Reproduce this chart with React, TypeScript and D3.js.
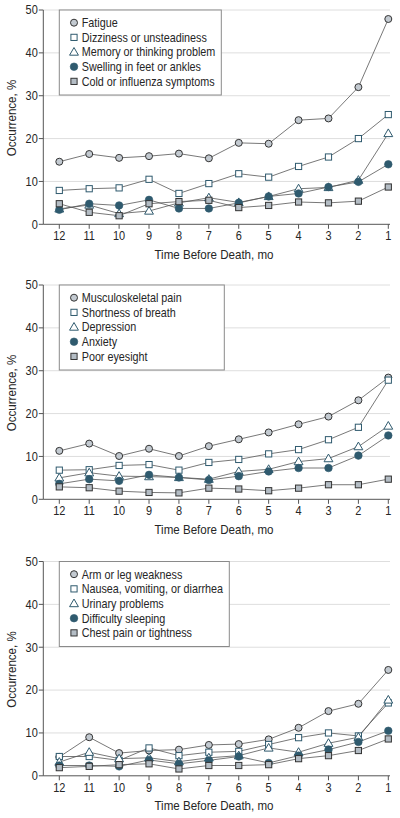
import React from "react";
import * as d3 from "d3";

const months = [12, 11, 10, 9, 8, 7, 6, 5, 4, 3, 2, 1];
const yTicks = [0, 10, 20, 30, 40, 50];
const xTitle = "Time Before Death, mo";
const yTitle = "Occurrence, %";

// Panel 1
const panel1Names = [
  "Fatigue",
  "Dizziness or unsteadiness",
  "Memory or thinking problem",
  "Swelling in feet or ankles",
  "Cold or influenza symptoms",
];
const fatigue = [14.6, 16.4, 15.5, 15.9, 16.5, 15.4, 19.0, 18.8, 24.3, 24.7, 32.0, 47.9];
const dizziness = [7.9, 8.3, 8.5, 10.5, 7.2, 9.5, 11.8, 11.0, 13.5, 15.7, 20.0, 25.6];
const memory = [3.6, 4.5, 2.5, 3.1, 5.0, 6.2, 5.1, 6.5, 8.3, 8.6, 10.3, 21.2];
const swelling = [3.4, 4.8, 4.4, 5.7, 3.7, 3.7, 5.0, 6.5, 7.2, 8.7, 9.9, 14.0];
const coldFlu = [4.8, 2.8, 2.0, 4.8, 5.3, 5.6, 3.9, 4.4, 5.2, 5.0, 5.4, 8.7];

// Panel 2
const panel2Names = [
  "Musculoskeletal pain",
  "Shortness of breath",
  "Depression",
  "Anxiety",
  "Poor eyesight",
];
const mskPain = [11.3, 13.0, 10.1, 11.8, 10.1, 12.4, 14.0, 15.6, 17.5, 19.3, 23.1, 28.4];
const breath = [6.8, 6.9, 7.9, 8.1, 6.8, 8.6, 9.3, 10.6, 11.6, 13.9, 16.8, 27.8];
const depression = [5.0, 6.2, 5.4, 5.3, 5.1, 4.7, 6.5, 7.0, 8.8, 9.5, 12.3, 17.1];
const anxiety = [3.6, 4.7, 4.3, 5.7, 5.1, 4.5, 5.4, 6.5, 7.3, 7.3, 10.2, 14.9];
const eyesight = [2.9, 2.7, 1.9, 1.6, 1.5, 2.6, 2.4, 2.0, 2.6, 3.4, 3.4, 4.7];

// Panel 3
const panel3Names = [
  "Arm or leg weakness",
  "Nausea, vomiting, or diarrhea",
  "Urinary problems",
  "Difficulty sleeping",
  "Chest pain or tightness",
];
const weakness = [4.4, 9.0, 5.3, 5.9, 6.1, 7.2, 7.4, 8.5, 11.2, 15.1, 16.8, 24.7];
const nausea = [4.5, 4.5, 3.6, 6.5, 4.7, 5.5, 5.7, 7.3, 8.9, 10.0, 9.3, 17.0];
const urinary = [3.2, 5.5, 4.0, 4.2, 3.3, 4.2, 4.7, 6.5, 5.5, 7.6, 9.0, 17.7];
const sleeping = [2.4, 2.4, 2.2, 3.7, 2.8, 3.6, 4.5, 3.0, 4.7, 6.1, 7.9, 10.5];
const chestPain = [1.9, 2.2, 2.6, 2.8, 1.6, 2.4, 2.4, 2.6, 4.0, 4.7, 5.9, 8.6];

const markerKinds = ["circle", "square", "triangle", "dot", "graySquare"];

const panels = [
  { names: panel1Names, series: [fatigue, dizziness, memory, swelling, coldFlu], top: 10, legendW: 162 },
  { names: panel2Names, series: [mskPain, breath, depression, anxiety, eyesight], top: 285, legendW: 165 },
  { names: panel3Names, series: [weakness, nausea, urinary, sleeping, chestPain], top: 561.5, legendW: 170 },
];

const FONT = "'Liberation Sans', Arial, sans-serif";
const SX = 0.87;
const TEAL = "#2f5a6e";
const DARK = "#333333";
const LIGHT = "#c3cad1";
const GRAYSQ = "#b4bdc5";
const TEXT = "#262626";

function Marker({ kind, x, y }: { kind: string; x: number; y: number }) {
  if (kind === "circle")
    return <circle cx={x} cy={y} r={3.5} fill={LIGHT} stroke={DARK} strokeWidth={1} />;
  if (kind === "dot") return <circle cx={x} cy={y} r={3.8} fill={TEAL} stroke={TEAL} strokeWidth={0.6} />;
  if (kind === "square")
    return <rect x={x - 3.1} y={y - 3.1} width={6.2} height={6.2} fill="#fff" stroke={TEAL} strokeWidth={1} />;
  if (kind === "graySquare")
    return <rect x={x - 3.1} y={y - 3.1} width={6.2} height={6.2} fill={GRAYSQ} stroke={DARK} strokeWidth={1} />;
  const p = d3.symbol(d3.symbolTriangle, 34)();
  return <path d={p || ""} transform={`translate(${x},${y + 0.6})`} fill="#fff" stroke={TEAL} strokeWidth={1} />;
}

function T({ x, y, size, anchor, children, rotate }: any) {
  const tr = rotate ? `translate(${x},${y}) rotate(-90) scale(${SX},1)` : `translate(${x},${y}) scale(${SX},1)`;
  return (
    <text transform={tr} fontFamily={FONT} fontSize={size} textAnchor={anchor || "start"} fill={TEXT}>
      {children}
    </text>
  );
}

function Panel({ names, series, top, legendW }: any) {
  const plotH = 214.3;
  const left = 43.3;
  const right = 390;
  const x = d3.scaleLinear().domain([12, 1]).range([59.3, 388.3]);
  const y = d3.scaleLinear().domain([0, 50]).range([top + plotH, top]);
  const line = d3
    .line<number>()
    .x((_, i) => x(months[i]))
    .y((d) => y(d));
  const y0 = y(0);
  return (
    <g>
      {yTicks.slice(1).map((t) => (
        <line key={"g" + t} x1={left} x2={right} y1={y(t)} y2={y(t)} stroke="#dedede" strokeWidth={1} />
      ))}
      <line x1={left} x2={left} y1={y(50)} y2={y0} stroke="#555" strokeWidth={1} />
      <line x1={left} x2={right} y1={y0} y2={y0} stroke="#555" strokeWidth={1} />
      {yTicks.map((t) => (
        <g key={"yt" + t}>
          <line x1={left - 4.5} x2={left} y1={y(t)} y2={y(t)} stroke="#555" strokeWidth={1} />
          <T x={37.8} y={y(t) + 4.3} size={12.6} anchor="end">
            {t}
          </T>
        </g>
      ))}
      {months.map((m) => (
        <g key={"xt" + m}>
          <line x1={x(m)} x2={x(m)} y1={y0} y2={y0 + 4.5} stroke="#555" strokeWidth={1} />
          <T x={x(m)} y={y0 + 16} size={12.6} anchor="middle">
            {m}
          </T>
        </g>
      ))}
      <T x={214} y={y0 + 34.3} size={13.3} anchor="middle">
        {xTitle}
      </T>
      <T x={15.8} y={top + 108} size={13.3} anchor="middle" rotate>
        {yTitle}
      </T>
      <rect x={59.3} y={top} width={legendW} height={85} fill="#fff" stroke="#8a8a8a" strokeWidth={1} />
      {names.map((n: string, i: number) => {
        const ly = top + 12.7 + i * 14.67;
        return (
          <g key={n}>
            <Marker kind={markerKinds[i]} x={74} y={ly} />
            <T x={81.7} y={ly + 4.3} size={12.4}>
              {n}
            </T>
          </g>
        );
      })}
      {series.map((s: number[], i: number) => (
        <path key={"l" + i} d={line(s) || ""} fill="none" stroke="#555" strokeWidth={0.8} />
      ))}
      {series.map((s: number[], i: number) =>
        s.map((v, j) => <Marker key={"m" + i + "-" + j} kind={markerKinds[i]} x={x(months[j])} y={y(v)} />)
      )}
    </g>
  );
}

export default function App() {
  return (
    <svg width={400} height={818} style={{ position: "absolute", left: 0, top: 0, background: "#fff" }}>
      <rect x={0} y={0} width={400} height={818} fill="#fff" />
      {panels.map((p, i) => (
        <Panel key={i} {...p} />
      ))}
    </svg>
  );
}
